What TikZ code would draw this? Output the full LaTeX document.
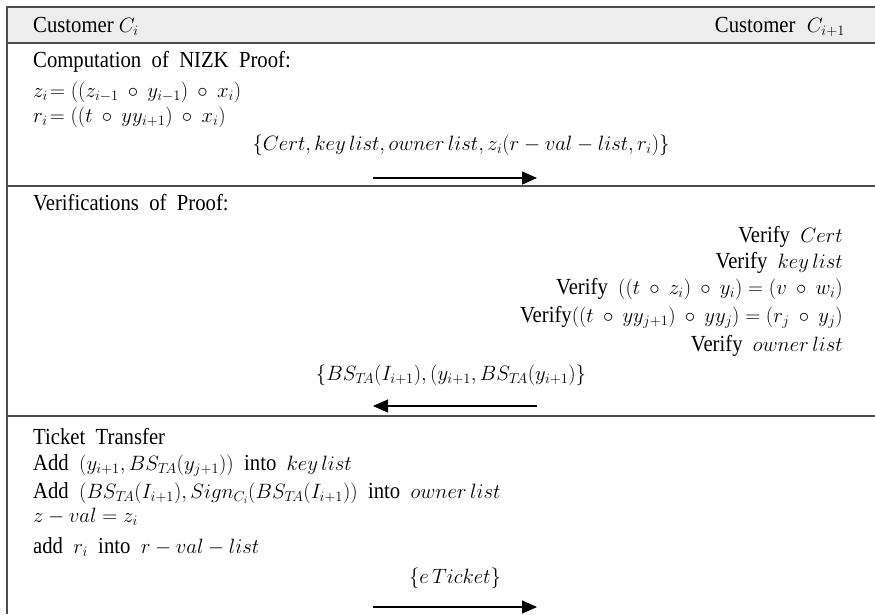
\documentclass[tikz,border=0pt]{standalone}
\usepackage[no-math]{fontspec}
\setmainfont{Liberation Serif}[FakeStretch=0.9]
\usetikzlibrary{arrows.meta,positioning}
\newcommand{\mx}[1]{{\fontsize{19.5}{22}\selectfont$#1$}}

\begin{document}
\begin{tikzpicture}[x=1pt,y=-1pt,
  lbl/.style={inner sep=0pt,font=\fontsize{23}{26}\selectfont},
  rule/.style={draw=black!70,line width=1.3pt},
  msg/.style={line width=1.1pt,-{Triangle[length=15pt,width=13pt]}}]
\useasboundingbox (0,0) rectangle (875,614);
% frame and rows
\fill[black!7] (7,7) rectangle (875,43);
\draw[rule] (875,7) -- (7,7) -- (7,614);
\draw[rule] (7,43) -- (875,43);
\draw[rule] (7,186) -- (875,186);
\draw[rule] (7,416) -- (875,416);
% header
\node[lbl,anchor=base west] (ci) at (33,32) {Customer \mx{C_i}};
\node[lbl,anchor=base east] (cj) at (845,32) {Customer\enspace\mx{C_{i+1}}};
% proof
\node[lbl,anchor=base west] (comp) at (33,67) {Computation\ \ of\ \ NIZK\ \ Proof:};
\node[lbl,anchor=base west] (zi) at (33,97) {\mx{z_i\!=((z_{i-1}\:\circ\:y_{i-1})\:\circ\:x_i)}};
\node[lbl,anchor=base west] (ri) at (33,122) {\mx{r_i\!=((t\:\circ\:yy_{i+1})\:\circ\:x_i)}};
\node[lbl,anchor=base] (m1) at (461,150) {\mx{\{Cert, key\,list, owner\,list, z_i(r-val-list, r_i)\}}};
\coordinate (a1s) at (373,178);
\coordinate[right=164pt of a1s] (a1e);
\draw[msg] (a1s) -- (a1e);
% verification
\node[lbl,anchor=base west] (ver) at (33,210) {Verifications\ \ of\ \ Proof:};
\node[lbl,anchor=base east] (v1) at (843,242) {Verify\ \ \mx{Cert}};
\node[lbl,anchor=base east] (v2) at (843,268) {Verify\ \ \mx{key\,list}};
\node[lbl,anchor=base east] (v3) at (843,294) {Verify\ \ \mx{((t\:\circ\:z_i)\:\circ\:y_i)=(v\:\circ\:w_i)}};
\node[lbl,anchor=base east] (v4) at (843,322) {Verify\mx{((t\:\circ\:yy_{j+1})\:\circ\:yy_j)=(r_j\:\circ\:y_j)}};
\node[lbl,anchor=base east] (v5) at (843,351) {Verify\ \ \mx{owner\,list}};
\node[lbl,anchor=base] (m2) at (451,380) {\mx{\{BS_{T\!A}(I_{i+1}), (y_{i+1}, BS_{T\!A}(y_{i+1})\}}};
\coordinate (a2s) at (537,406);
\coordinate[left=164pt of a2s] (a2e);
\draw[msg] (a2s) -- (a2e);
% transfer
\node[lbl,anchor=base west] (tt) at (33,444) {Ticket\ \ Transfer};
\node[lbl,anchor=base west] (add1) at (33,470) {Add\ \ \mx{(y_{i+1}, BS_{T\!A}(y_{j+1}))}\ \ into\ \ \mx{key\,list}};
\node[lbl,anchor=base west] (add2) at (33,498) {Add\ \ \mx{(BS_{T\!A}(I_{i+1}), Sign_{C_i}(BS_{T\!A}(I_{i+1}))}\ \ into\ \ \mx{owner\,list}};
\node[lbl,anchor=base west] (zv) at (33,522) {\mx{z-val=z_i}};
\node[lbl,anchor=base west] (add3) at (33,553) {add\ \ \mx{r_i}\ \ into\ \ \mx{r-val-list}};
\node[lbl,anchor=base] (m3) at (455,583) {\mx{\{e\,Ticket\}}};
\coordinate (a3s) at (373,607);
\coordinate[right=164pt of a3s] (a3e);
\draw[msg] (a3s) -- (a3e);
\end{tikzpicture}
\end{document}
